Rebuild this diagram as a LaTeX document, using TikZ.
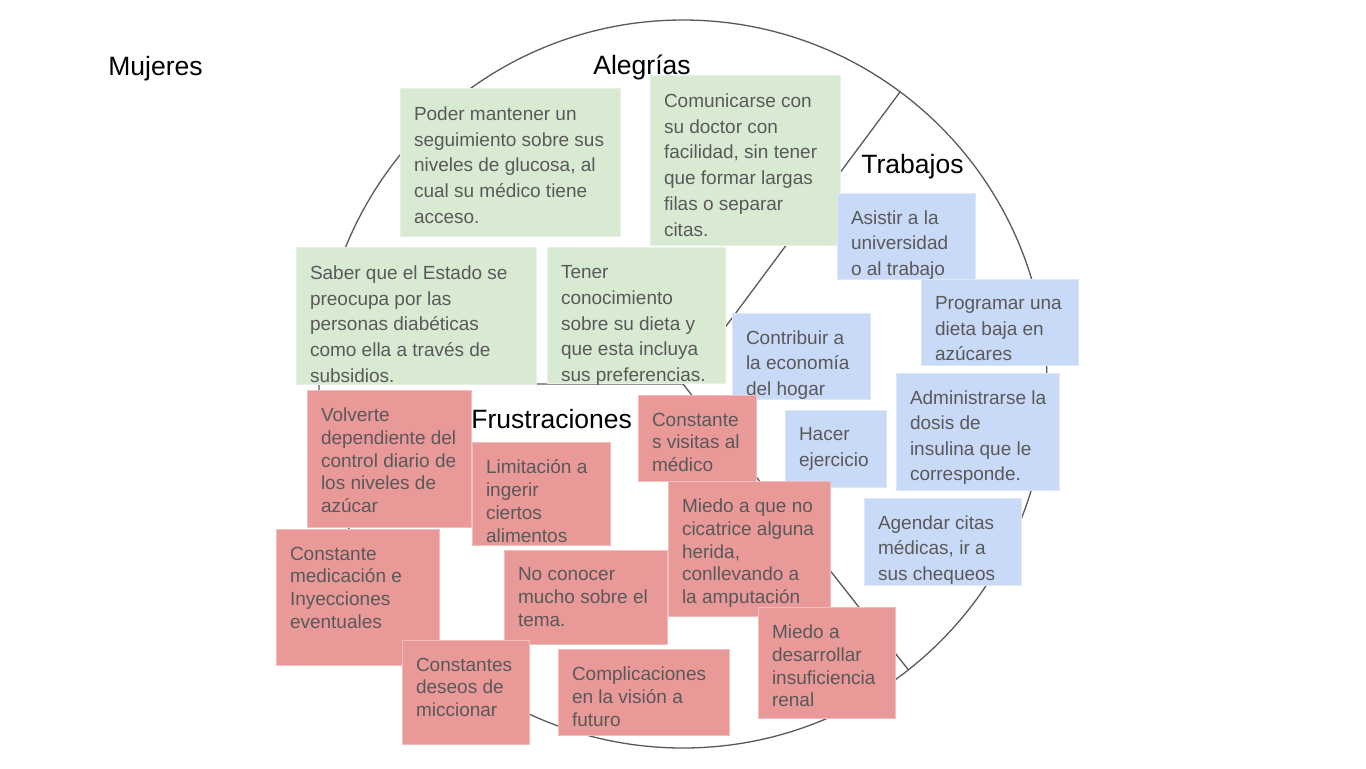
\documentclass[tikz,border=0pt]{standalone}
\usepackage{fontspec}
\setmainfont{Liberation Sans}
\usepackage{xcolor}
\definecolor{joyfill}{HTML}{D9EAD3}
\definecolor{jobfill}{HTML}{C9DAF8}
\definecolor{painfill}{HTML}{EA9999}
\definecolor{cardink}{HTML}{595959}
\definecolor{rimline}{HTML}{595959}
% sticky note: name, kind, top left, bottom right, text
\newcommand{\card}[5]{%
  \fill[#2 card] (#3) rectangle (#4);
  \node[#2 text,anchor=north west] (#1) at (#3) {#5};}

\begin{document}
\begin{tikzpicture}[x=0.5pt,y=-0.5pt,
  title/.style={font=\fontsize{13.25}{16}\selectfont,anchor=base west,inner sep=0pt},
  cardtext/.style={text=cardink,align=left,inner xsep=6.8pt},
  joy card/.style={fill=joyfill,draw=joyfill!65!white,line width=0.5pt},
  job card/.style={fill=jobfill,draw=jobfill!65!white,line width=0.5pt},
  pain card/.style={fill=painfill,draw=painfill!65!white,line width=0.5pt},
  joy text/.style={cardtext,inner ysep=9.2pt,font=\fontsize{9.5}{12.85}\selectfont},
  job text/.style={cardtext,inner ysep=8.5pt,font=\fontsize{9.5}{12.8}\selectfont},
  pain text/.style={cardtext,inner ysep=8.7pt,font=\fontsize{9.5}{11.4}\selectfont},
  divider/.style={draw=rimline,line width=0.65pt}]
  \useasboundingbox (0,0) rectangle (1366,768);
  % circle split in three
  \coordinate (ctr) at (683,384);
  \coordinate (rimNE) at (900,92);
  \coordinate (rimW) at (319,384);
  \coordinate (rimSE) at (908.5,670);
  \draw[divider] (ctr) circle[radius=182pt];
  \draw[divider] (rimNE) -- (ctr) -- (rimW);
  \draw[divider] (ctr) -- (rimSE);
  % titles
  \node[title] (mujeres) at (108,75) {Mujeres};
  \node[title] (alegrias) at (593,74.5) {Alegrías};
  \node[title] (trabajos) at (861,173) {Trabajos};
  \node[title] (frustra) at (471,428.5) {Frustraciones};
  % alegrias
  \card{g1}{joy}{400,88}{620,236}{Poder mantener un\\seguimiento sobre sus\\niveles de glucosa, al\\cual su médico tiene\\acceso.}
  \card{g2}{joy}{650,75}{840,245}{Comunicarse con\\su doctor con\\facilidad, sin tener\\que formar largas\\filas o separar\\citas.}
  \card{g3}{joy}{296,247}{536,384}{Saber que el Estado se\\preocupa por las\\personas diabéticas\\como ella a través de\\subsidios.}
  \card{g4}{joy}{547,247}{725,383}{Tener\\conocimiento\\sobre su dieta y\\que esta incluya\\sus preferencias.}
  % trabajos
  \card{b1}{job}{837,193}{975,279}{Asistir a la\\universidad\\o al trabajo}
  \card{b2}{job}{921,279}{1078,365}{Programar una\\dieta baja en\\azúcares}
  \card{b3}{job}{732,313}{870,399}{Contribuir a\\la economía\\del hogar}
  \card{b4}{job}{896,373}{1059,490}{Administrarse la\\dosis de\\insulina que le\\corresponde.}
  \card{b5}{job}{785,410}{886,487}{Hacer\\ejercicio}
  \card{b6}{job}{864,498}{1021,585}{Agendar citas\\médicas, ir a\\sus chequeos}
  % frustraciones
  \card{r1}{pain}{307,390}{471,527}{Volverte\\dependiente del\\control diario de\\los niveles de\\azúcar}
  \card{r2}{pain}{472,442}{610,545}{Limitación a\\ingerir\\ciertos\\alimentos}
  \card{r3}{pain}{638,395}{756,481}{Constante\\s visitas al\\médico}
  \card{r4}{pain}{668,481}{830,616}{Miedo a que no\\cicatrice alguna\\herida,\\conllevando a\\la amputación}
  \card{r5}{pain}{276,529}{439,665}{Constante\\medicación e\\Inyecciones\\eventuales}
  \card{r6}{pain}{504,550}{667,644}{No conocer\\mucho sobre el\\tema.}
  \card{r7}{pain}{402,640}{529,744}{Constantes\\deseos de\\miccionar}
  \card{r8}{pain}{558,649}{729,735}{Complicaciones\\en la visión a\\futuro}
  \card{r9}{pain}{758,607}{895,718}{Miedo a\\desarrollar\\insuficiencia\\renal}
\end{tikzpicture}
\end{document}
